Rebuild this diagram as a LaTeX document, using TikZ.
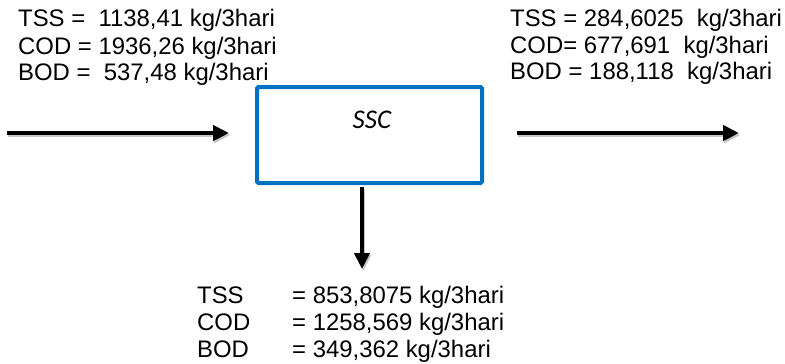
\documentclass[tikz,border=0pt]{standalone}
\usepackage{fontspec}
\setmainfont{Liberation Sans}
\newfontfamily\carlito{Carlito}
\usetikzlibrary{arrows.meta}
\definecolor{boxblue}{HTML}{0070C0}
\tikzset{
  lbl/.style={anchor=base west, inner sep=0pt, font=\fontsize{23.9}{27}\selectfont},
  flow/.style={line width=4.3pt, -{Triangle[length=16pt,width=15pt]}},
  flowshadow/.style={flow, draw=black, opacity=0.22, transform canvas={shift={(1.2pt,-2.2pt)}}},
  unit/.style={draw=boxblue, line width=4pt, rounded corners=1.5pt, fill=white,
    minimum width=225pt, minimum height=96pt, inner sep=0pt}
}
\begin{document}
\begin{tikzpicture}[x=1pt, y=-1pt]
\useasboundingbox (0,0) rectangle (785,364);

% inflow loads
\node[lbl] (inTSS) at (18,27)   {TSS =\ \ 1138,41 kg/3hari};
\node[lbl] (inCOD) at (18,54)   {COD = 1936,26 kg/3hari};
\node[lbl] (inBOD) at (18,80.5) {BOD =\ \ 537,48 kg/3hari};

% effluent loads
\node[lbl] (outTSS) at (510,26) {TSS = 284,6025\ \ kg/3hari};
\node[lbl] (outCOD) at (510,53) {COD= 677,691\ \ kg/3hari};
\node[lbl] (outBOD) at (510,79) {BOD = 188,118\ \ kg/3hari};

% sludge loads
\node[lbl] (slTSS) at (197,303) {TSS};
\node[lbl] (slCOD) at (197,330) {COD};
\node[lbl] (slBOD) at (197,357) {BOD};
\node[lbl] (slTSSv) at (292,303) {= 853,8075 kg/3hari};
\node[lbl] (slCODv) at (292,330) {= 1258,569 kg/3hari};
\node[lbl] (slBODv) at (292,357) {= 349,362 kg/3hari};

% treatment unit
\node[unit] (ssc) at (369.5,135) {};
\node[inner sep=0pt, anchor=base, font=\carlito\itshape\fontsize{27}{30}\selectfont] (ssclabel) at (372,128) {SSC};

% connector end points
\coordinate (inA) at (7,133);
\coordinate (inB) at (229,133);
\coordinate (outA) at (517,133);
\coordinate (outB) at (739,133);
\coordinate (dnA) at (362,187);
\coordinate (dnB) at (362,269);

% soft shadows under the arrows
\draw[flowshadow] (inA) -- (inB);
\draw[flowshadow] (outA) -- (outB);
\draw[flowshadow] (dnA) -- (dnB);

% arrows
\draw[flow] (inA) -- (inB);
\draw[flow] (outA) -- (outB);
\draw[flow] (dnA) -- (dnB);
\end{tikzpicture}
\end{document}
